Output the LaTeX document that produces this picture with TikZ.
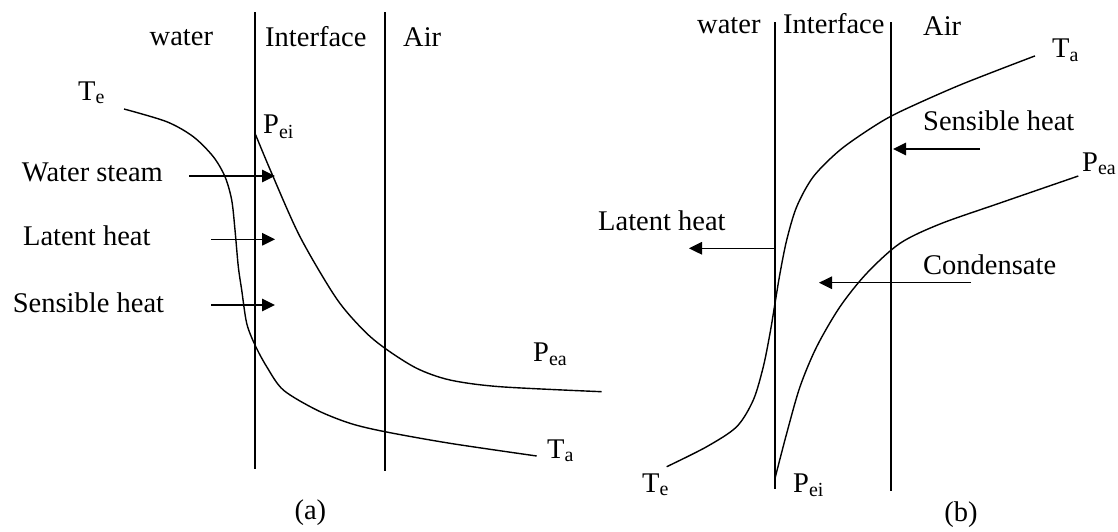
\documentclass[tikz,border=0pt]{standalone}
\usepackage{fontspec}
\setmainfont{Liberation Serif}
\usetikzlibrary{arrows.meta}
\tikzset{
  ln/.style={line width=1.4pt},
  flow/.style={line width=1.4pt,-{Triangle[length=13pt,width=12.5pt]}},
  lbl/.style={inner sep=0pt,anchor=base west,font=\fontsize{28.5}{32}\selectfont},
  captxt/.style={inner sep=0pt,anchor=base,font=\fontsize{28.5}{32}\selectfont},
}
\begin{document}
\begin{tikzpicture}[x=1pt,y=-1pt]
\useasboundingbox (0,0) rectangle (1118,531);
% ---------- panel (a) ----------
\coordinate (a1t) at (255,12); \coordinate (a1b) at (255,469);
\coordinate (a2t) at (385,12); \coordinate (a2b) at (385,470.5);
\draw[ln] (a1t) -- (a1b);
\draw[ln] (a2t) -- (a2b);
\node[lbl] (awater) at (149.5,45.7) {water};
\node[lbl] (aint) at (265,46.4) {Interface};
\node[lbl] (aair) at (403,46.4) {Air};
\node[lbl] (aTe) at (78,100) {T\textsubscript{e}};
\node[lbl] (aPei) at (263,133.7) {P\textsubscript{ei}};
\node[lbl] (aPea) at (533,361.7) {P\textsubscript{ea}};
\node[lbl] (aTa) at (547,458) {T\textsubscript{a}};
\node[lbl] (aws) at (21.7,181.8) {Water steam};
\node[lbl] (alh) at (22.9,245.5) {Latent heat};
\node[lbl] (ash) at (12.7,312.2) {Sensible heat};
\node[captxt] (acap) at (310.4,519) {(a)};
\draw[ln] plot[smooth,tension=0.5] coordinates {(124,109) (166.7,121.7) (193.3,136.7) (213.3,156.7) (225,176.7) (231.7,200) (235,230) (238.3,266.7) (241.7,290) (246.7,323.3) (255,345) (266.7,366.7) (283.3,390) (316.7,410) (350,423.3) (385,431.7) (450,443.3) (536.7,456)};
\draw[ln] plot[smooth,tension=0.5] coordinates {(255,133.3) (271.7,173.3) (300,236.7) (336.1,298) (363.3,330) (385,348.3) (416.7,368.3) (450,380) (500,386.7) (601.7,391.7)};
\coordinate (aws1) at (189.3,176); \coordinate (aws2) at (275,176);
\coordinate (alh1) at (211,239.3); \coordinate (alh2) at (275,239.3);
\coordinate (ash1) at (211,305); \coordinate (ash2) at (275,305);
\draw[flow] (aws1) -- (aws2);
\draw[flow] (alh1) -- (alh2);
\draw[flow] (ash1) -- (ash2);
% ---------- panel (b) ----------
\coordinate (b1t) at (775,22); \coordinate (b1b) at (775,489.3);
\coordinate (b2t) at (891,22); \coordinate (b2b) at (891,491);
\draw[ln] (b1t) -- (b1b);
\draw[ln] (b2t) -- (b2b);
\node[lbl] (bwater) at (697,33.9) {water};
\node[lbl] (bint) at (783,33.9) {Interface};
\node[lbl] (bair) at (923,35.6) {Air};
\node[lbl] (bTa) at (1052,57.6) {T\textsubscript{a}};
\node[lbl] (bsh) at (923,130.4) {Sensible heat};
\node[lbl] (bPea) at (1082,171) {P\textsubscript{ea}};
\node[lbl] (blh) at (598,230.2) {Latent heat};
\node[lbl] (bcd) at (923,274.3) {Condensate};
\node[lbl] (bTe) at (642,492) {T\textsubscript{e}};
\node[lbl] (bPei) at (793,492) {P\textsubscript{ei}};
\node[captxt] (bcap) at (961,521) {(b)};
\draw[ln] plot[smooth,tension=0.5] coordinates {(666.7,466.7) (706.7,446.7) (736.7,426.7) (753.3,400) (763.3,366.7) (770,333.3) (775,303.3) (780,273.3) (786.7,240) (796.7,206.7) (813.3,176.7) (840,150) (873.3,126.7) (900,111.7) (960,85) (1035,55.9)};
\draw[ln] plot[smooth,tension=0.5] coordinates {(775,478.3) (786.7,433.3) (800,386.7) (816.7,346.7) (840,306.7) (866.7,273.3) (900,243.3) (940,224) (1000,203) (1078.3,176)};
\coordinate (bsh1) at (980,149); \coordinate (bsh2) at (893,149);
\coordinate (bcd1) at (971,282.7); \coordinate (bcd2) at (819,282.7);
\coordinate (blh1) at (775,248.3); \coordinate (blh2) at (689,248.3);
\draw[flow] (bsh1) -- (bsh2);
\draw[flow] (bcd1) -- (bcd2);
\draw[flow] (blh1) -- (blh2);
\end{tikzpicture}
\end{document}
